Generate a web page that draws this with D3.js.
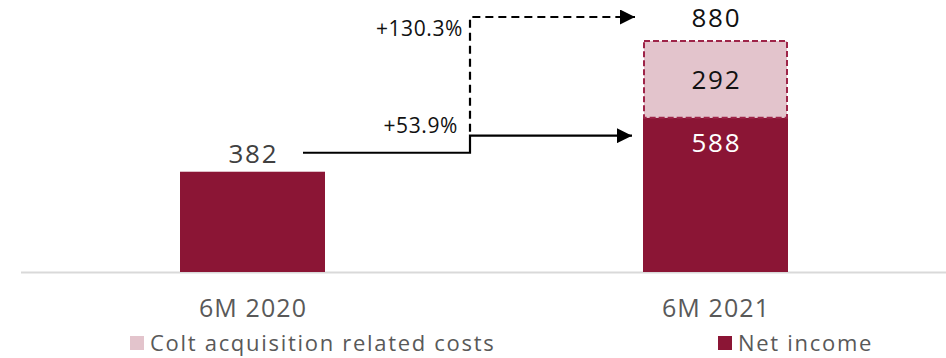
<!DOCTYPE html>
<html>
<head>
<meta charset="utf-8">
<script src="https://cdn.jsdelivr.net/npm/d3@7"></script>
<style>
  body { margin: 0; background: #fff; }
  svg text { font-family: "Open Sans", sans-serif; }
</style>
</head>
<body>
<svg></svg>
<script>
const w = 946
const h = 358

const categories = ['6M 2020', '6M 2021']
const netIncome = [382, 588]
const coltCosts = [0, 292]
const growthLabels = ['+53.9%', '+130.3%']
const legendLabels = ['Colt acquisition related costs', 'Net income']

const dark = '#8b1535'
const light = '#e3c4cc'

const svg = d3.select('svg')
  .attr('width', w)
  .attr('height', h);

const baseY = 272

// bar centres so bars land at 180-325 and 643-788
const x = d3.scalePoint().domain(categories).range([252.5, 715.5])
const barW = 145

const yScale = d3.scaleLinear()
  .domain([0, 880])
  .range([baseY, 41])

// letter-spacing helper for centred text (spacing is added after each glyph)
const centred = (sel, ls) => sel.attr('letter-spacing', ls).attr('dx', ls / 2)

// axis line
svg.append('line')
  .attr('x1', 21).attr('x2', w)
  .attr('y1', baseY + 0.5).attr('y2', baseY + 0.5)
  .attr('stroke', '#d9d9d9')
  .attr('stroke-width', 2)

// net income bars
svg.selectAll('rect.ni').data(categories)
  .enter().append('rect')
  .attr('class', 'ni')
  .attr('x', d => x(d) - barW / 2)
  .attr('width', barW)
  .attr('y', (d, i) => yScale(netIncome[i]))
  .attr('height', (d, i) => baseY - yScale(netIncome[i]))
  .attr('fill', dark)

// colt costs (stacked, dashed outline)
svg.selectAll('rect.colt').data(categories.filter((d, i) => coltCosts[i] > 0))
  .enter().append('rect')
  .attr('class', 'colt')
  .attr('x', d => x(d) - barW / 2 + 1)
  .attr('width', barW - 2)
  .attr('y', d => { const i = categories.indexOf(d); return yScale(netIncome[i] + coltCosts[i]) })
  .attr('height', d => { const i = categories.indexOf(d); return yScale(netIncome[i]) - yScale(netIncome[i] + coltCosts[i]) })
  .attr('fill', light)
  .attr('stroke', '#9e2448')
  .attr('stroke-width', 2)
  .attr('stroke-dasharray', '6,3')

// value labels
svg.append('text')
  .attr('x', x(categories[0])).attr('y', yScale(netIncome[0]) - 9)
  .attr('text-anchor', 'middle').attr('font-size', 26).attr('fill', '#404040')
  .text(netIncome[0])
  .call(centred, 1.8)

svg.append('text')
  .attr('x', x(categories[1])).attr('y', yScale(netIncome[1]) + 34)
  .attr('text-anchor', 'middle').attr('font-size', 26).attr('fill', '#fff')
  .text(netIncome[1])
  .call(centred, 1.8)

svg.append('text')
  .attr('x', x(categories[1]))
  .attr('y', (yScale(netIncome[1]) + yScale(netIncome[1] + coltCosts[1])) / 2 + 10)
  .attr('text-anchor', 'middle').attr('font-size', 26).attr('fill', '#111')
  .text(coltCosts[1])
  .call(centred, 1.8)

svg.append('text')
  .attr('x', x(categories[1])).attr('y', yScale(netIncome[1] + coltCosts[1]) - 14)
  .attr('text-anchor', 'middle').attr('font-size', 26).attr('fill', '#111')
  .text(netIncome[1] + coltCosts[1])
  .call(centred, 1.8)

// category labels
svg.selectAll('text.cat').data(categories)
  .enter().append('text')
  .attr('class', 'cat')
  .attr('x', d => x(d)).attr('y', 317)
  .attr('text-anchor', 'middle').attr('font-size', 25).attr('fill', '#595959')
  .text(d => d)
  .call(centred, 1.1)

// arrows
const defs = svg.append('defs')
defs.append('marker')
  .attr('id', 'head')
  .attr('viewBox', '0 0 10 10')
  .attr('refX', 10).attr('refY', 5)
  .attr('markerWidth', 18).attr('markerHeight', 15)
  .attr('markerUnits', 'userSpaceOnUse')
  .attr('orient', 'auto')
  .append('path').attr('d', 'M0,0L10,5L0,10Z').attr('fill', '#000')

const stepX = 470
const yLow = yScale(netIncome[0]) - 19
const yMid = yScale(netIncome[1]) + 18
const yTop = yScale(netIncome[1] + coltCosts[1]) - 24

svg.append('path')
  .attr('d', `M303,${yLow}H${stepX}V${yMid}H632`)
  .attr('fill', 'none').attr('stroke', '#000').attr('stroke-width', 2.2)
  .attr('marker-end', 'url(#head)')

svg.append('path')
  .attr('d', `M${stepX},${yMid - 4}V${yTop}H635`)
  .attr('fill', 'none').attr('stroke', '#000').attr('stroke-width', 2.2)
  .attr('stroke-dasharray', '8,5')
  .attr('marker-end', 'url(#head)')

svg.append('text')
  .attr('x', 458).attr('y', yMid - 3)
  .attr('text-anchor', 'end').attr('font-size', 21).attr('fill', '#111')
  .attr('letter-spacing', 0.6)
  .text(growthLabels[0])

svg.append('text')
  .attr('x', 463).attr('y', yTop + 19)
  .attr('text-anchor', 'end').attr('font-size', 21).attr('fill', '#111')
  .attr('letter-spacing', 0.6)
  .text(growthLabels[1])

// legend
const legendX = [130, 718]
const legendColors = [light, dark]
const lg = svg.selectAll('g.legend').data(legendLabels)
  .enter().append('g')
  .attr('class', 'legend')
  .attr('transform', (d, i) => `translate(${legendX[i]}, 336)`)
lg.append('rect')
  .attr('width', 14).attr('height', 14)
  .attr('fill', (d, i) => legendColors[i])
lg.append('text')
  .attr('x', 20).attr('y', 15)
  .attr('font-size', 22).attr('fill', '#595959')
  .attr('letter-spacing', 1.7)
  .text(d => d)
</script>
</body>
</html>
